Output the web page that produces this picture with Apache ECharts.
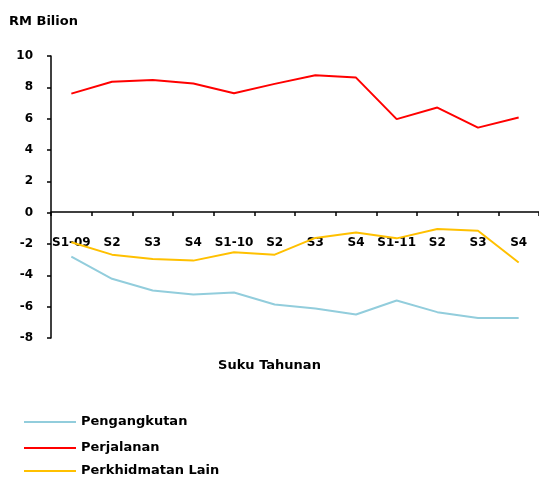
<!DOCTYPE html>
<html><head><meta charset="utf-8">
<script src="https://cdn.jsdelivr.net/npm/echarts@6/dist/echarts.min.js"></script>
<style>html,body{margin:0;padding:0;background:#fff}#c{width:539px;height:477px}</style>
</head><body><div id="c"></div>
<script>
var categories = ['S1-09','S2','S3','S4','S1-10','S2','S3','S4','S1-11','S2','S3','S4'];
var pengangkutan = [-2.80,-4.22,-4.97,-5.22,-5.10,-5.86,-6.11,-6.50,-5.61,-6.35,-6.73,-6.73];
var perjalanan = [7.60,8.36,8.47,8.24,7.62,8.22,8.77,8.62,5.97,6.71,5.43,6.07];
var perkhidmatanLain = [-1.89,-2.68,-2.95,-3.06,-2.53,-2.68,-1.61,-1.27,-1.64,-1.04,-1.15,-3.18];
var seriesNames = ['Pengangkutan','Perjalanan','Perkhidmatan Lain'];
var colors = ['#92CDDC','#FF0000','#FFC000'];
var FONT = 'DejaVu Sans';
var legendTops = [414, 440, 463];
var chart = echarts.init(document.getElementById('c'));
chart.setOption({
  animation:false,
  textStyle:{fontFamily:FONT},
  title:[
    {text:'RM Bilion',left:9,top:15,padding:0,textStyle:{fontFamily:FONT,fontSize:13,fontWeight:'bold',color:'#000'}},
    {text:'Suku Tahunan',left:'center',top:359,padding:0,textStyle:{fontFamily:FONT,fontSize:13,fontWeight:'bold',color:'#000'}}
  ],
  grid:{left:51,top:56,width:489,bottom:139,containLabel:false},
  legend:seriesNames.map(function(n,i){
    return {orient:'vertical',left:24,top:legendTops[i],padding:0,itemWidth:52,itemHeight:2,icon:'rect',
      textStyle:{fontFamily:FONT,fontSize:13,fontWeight:'bold',color:'#000',lineHeight:16},
      data:[n]};
  }),
  xAxis:{type:'category',data:categories,boundaryGap:true,position:'bottom',offset:-126,
    axisLine:{onZero:false,lineStyle:{color:'#000',width:1.5}},
    axisTick:{show:true,length:4,inside:false,lineStyle:{color:'#000',width:1.5}},
    axisLabel:{margin:25,fontFamily:FONT,fontSize:12,fontWeight:'bold',color:'#000',interval:0},
    splitLine:{show:false}},
  yAxis:{type:'value',min:-8,max:10,interval:2,
    axisLine:{show:true,lineStyle:{color:'#000',width:1.5}},
    axisTick:{show:true,length:4,lineStyle:{color:'#000',width:1.5}},
    axisLabel:{margin:18,fontFamily:FONT,fontSize:12,fontWeight:'bold',color:'#000'},
    splitLine:{show:false}},
  series:[
    {name:seriesNames[0],type:'line',data:pengangkutan,symbol:'none',lineStyle:{color:colors[0],width:2},itemStyle:{color:colors[0]}},
    {name:seriesNames[1],type:'line',data:perjalanan,symbol:'none',lineStyle:{color:colors[1],width:2},itemStyle:{color:colors[1]}},
    {name:seriesNames[2],type:'line',data:perkhidmatanLain,symbol:'none',lineStyle:{color:colors[2],width:2},itemStyle:{color:colors[2]}}
  ]
});
</script></body></html>
